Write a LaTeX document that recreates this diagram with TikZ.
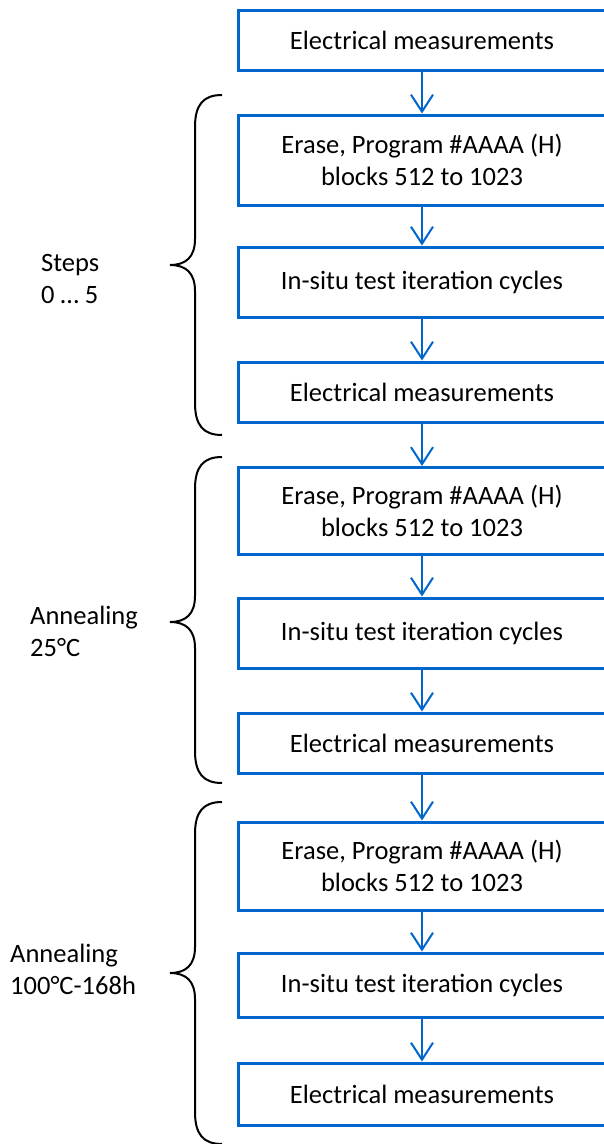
\documentclass[tikz,border=0pt]{standalone}
\usepackage{fontspec}
\setmainfont{Carlito}
\usetikzlibrary{arrows.meta,positioning}
\definecolor{flowblue}{RGB}{0,102,204}
\tikzset{
  stepbox/.style={draw=flowblue,line width=3pt,fill=white,minimum width=368pt,align=center,font=\fontsize{26.5}{32}\selectfont},
  flowarrow/.style={draw=flowblue,line width=2pt,-{Straight Barb[length=17pt,width=22pt]}},
  grouplabel/.style={anchor=west,align=left,inner sep=0pt,font=\fontsize{26.5}{32}\selectfont},
  bracestroke/.style={draw=black,line width=2pt}
}
\begin{document}
\begin{tikzpicture}[x=1pt,y=-1pt]
\useasboundingbox (0,0) rectangle (603,1144);
\node[stepbox,minimum height=60pt] (m0) at (422,40) {Electrical measurements};
\node[stepbox,minimum height=90pt] (p1) at (422,160) {Erase, Program \#AAAA (H)\\blocks 512 to 1023};
\node[stepbox,minimum height=70pt] (c1) at (422,282) {In-situ test iteration cycles};
\node[stepbox,minimum height=60pt] (m1) at (422,392) {Electrical measurements};
\node[stepbox,minimum height=87pt] (p2) at (422,511) {Erase, Program \#AAAA (H)\\blocks 512 to 1023};
\node[stepbox,minimum height=70pt] (c2) at (422,633) {In-situ test iteration cycles};
\node[stepbox,minimum height=60pt] (m2) at (422,743) {Electrical measurements};
\node[stepbox,minimum height=88pt] (p3) at (422,866) {Erase, Program \#AAAA (H)\\blocks 512 to 1023};
\node[stepbox,minimum height=64pt] (c3) at (422,985) {In-situ test iteration cycles};
\node[stepbox,minimum height=62pt] (m3) at (422,1094) {Electrical measurements};
\foreach \a/\b in {m0/p1,p1/c1,c1/m1,m1/p2,p2/c2,c2/m2,m2/p3,p3/c3,c3/m3}
  \draw[flowarrow] (\a.south) -- (\b.north);
% curly braces grouping the steps
\foreach \t/\m/\b in {95/265/435,457/622/783,802/973/1144}
  \draw[bracestroke] (222,\t) .. controls (203,\t) and (195,{\t+10}) .. (195,{\t+32})
    -- (195,{\m-26}) .. controls (195,{\m-8}) and (186,\m) .. (170,\m)
    .. controls (186,\m) and (195,{\m+8}) .. (195,{\m+26})
    -- (195,{\b-32}) .. controls (195,{\b-10}) and (203,\b) .. (222,\b);
\node[grouplabel] (g1) at (41,279) {Steps\\0 … 5};
\node[grouplabel] (g2) at (30,631) {Annealing\\25°C};
\node[grouplabel] (g3) at (10,969) {Annealing\\100°C-168h};
\end{tikzpicture}
\end{document}
